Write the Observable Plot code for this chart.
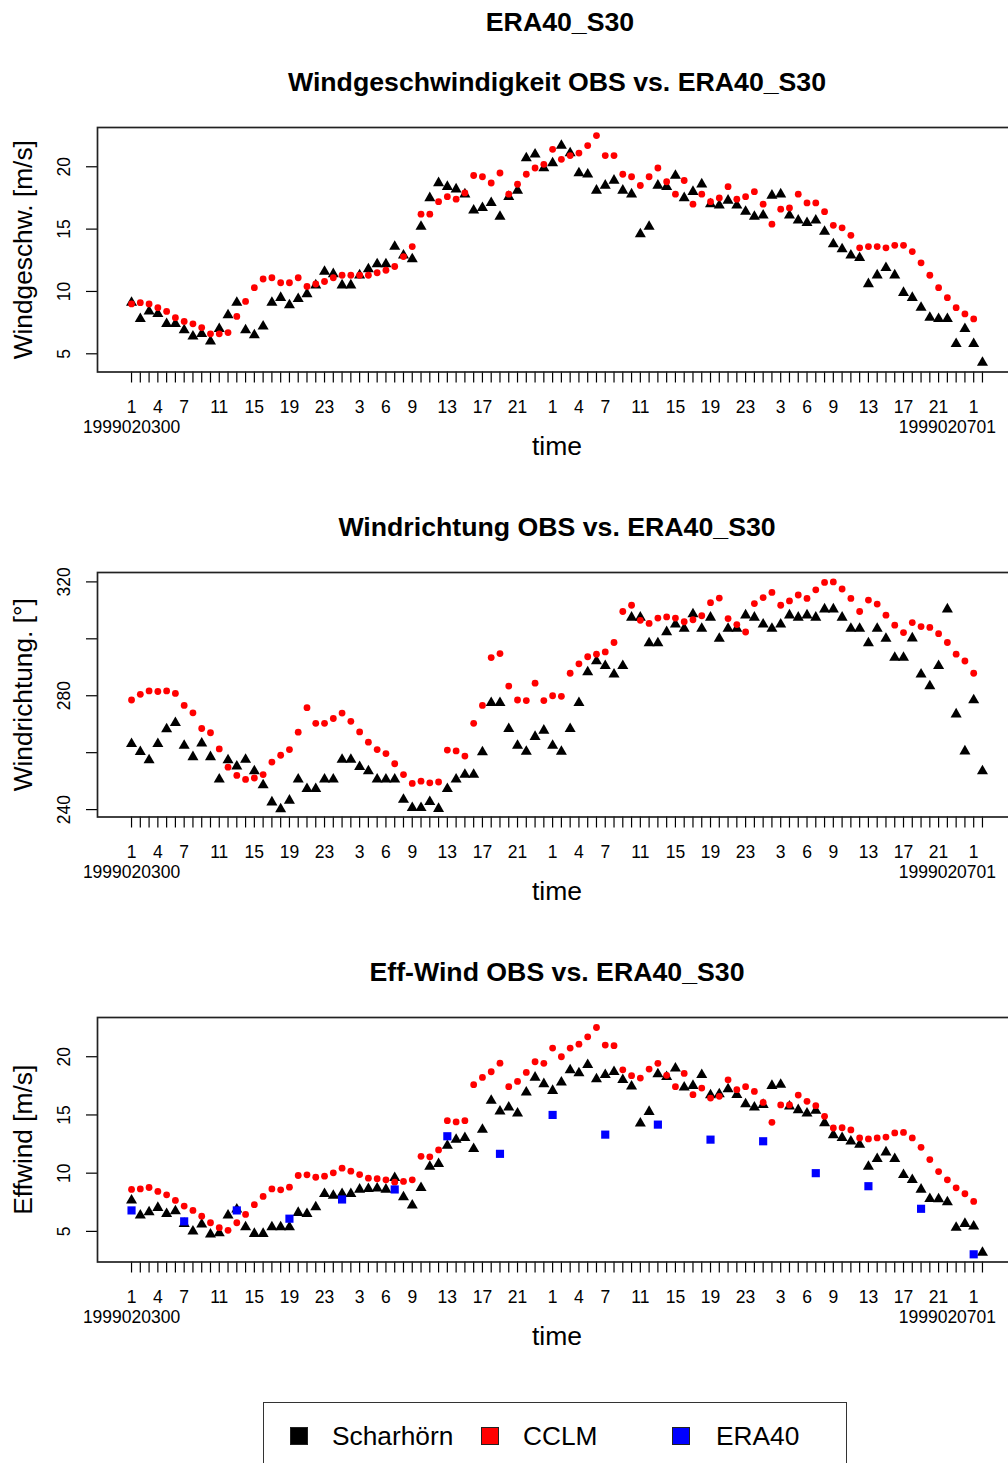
<!DOCTYPE html>
<html><head><meta charset="utf-8">
<script src="https://cdn.jsdelivr.net/npm/d3@7"></script>
<script src="https://cdn.jsdelivr.net/npm/@observablehq/plot@0.6"></script>
<style>
body{margin:0;background:#fff;font-family:"Liberation Sans",Arial,sans-serif;}
#page{position:relative;width:1008px;height:1463px;overflow:hidden;background:#fff;}
.t{position:absolute;white-space:nowrap;transform:translate(-50%,-50%);font-weight:bold;font-size:26.7px;color:#000;line-height:1;}
.panel{position:absolute;left:0;width:1016px;}
.panel svg{max-width:none !important;display:block;}
#legend{position:absolute;left:263px;top:1402px;width:584px;height:90px;border:1.6px solid #333;box-sizing:border-box;}
.sq{position:absolute;width:18px;height:18px;box-sizing:border-box;border:1px solid #222;}
.lt{position:absolute;font-size:26.3px;line-height:1;transform:translateY(-50%);white-space:nowrap;color:#000;}
</style>
</head><body>
<div id="page"></div>
<script>
// ---- data ----
const xTickLabels = ["1","4","7","11","15","19","23","3","6","9","13","17","21","1","4","7","11","15","19","23","3","6","9","13","17","21","1"];
const xTickLabelIndex = [0,3,6,10,14,18,22,26,29,32,36,40,44,48,51,54,58,62,66,70,74,77,80,84,88,92,96];
const dateLabels = ["1999020300","1999020701"];
const dateLabelIndex = [0,93];

const speedObs = [9.1,7.8,8.4,8.2,7.4,7.4,6.9,6.4,6.6,6.0,
  7.0,8.1,9.1,6.9,6.5,7.2,9.1,9.5,8.9,9.4,
  9.8,10.5,11.6,11.4,10.5,10.5,11.3,11.8,12.2,12.2,
  13.6,12.9,12.6,15.2,17.5,18.7,18.4,18.2,17.8,16.5,
  16.7,17.1,16.0,17.6,18.1,20.7,21.0,19.9,20.3,21.7,
  21.1,19.5,19.4,18.1,18.5,18.9,18.1,17.8,14.6,15.2,
  18.5,18.4,19.3,17.5,18.0,18.6,17.0,16.9,17.3,16.9,
  16.4,16.0,16.1,17.7,17.8,16.1,15.7,15.5,15.7,14.8,
  13.8,13.4,12.9,12.7,10.6,11.3,11.9,11.3,9.9,9.5,
  8.7,7.9,7.8,7.8,5.8,7.0,5.8,4.3];
const speedCclm = [9.0,9.1,9.0,8.7,8.4,7.9,7.6,7.4,7.1,6.6,
  6.6,6.7,8.0,9.2,10.3,11.0,11.1,10.7,10.7,11.1,
  10.4,10.6,10.8,11.1,11.3,11.3,11.3,11.3,11.5,11.7,
  12.0,12.8,13.6,16.2,16.2,17.2,17.6,17.4,17.9,19.3,
  19.2,18.7,19.5,17.8,18.6,19.4,19.9,20.2,21.4,20.6,
  20.9,21.1,21.7,22.5,20.9,20.9,19.4,19.2,18.5,19.2,
  19.9,18.8,17.8,18.9,17.0,17.8,17.2,17.5,18.4,17.4,
  17.6,18.0,17.0,15.4,16.6,16.7,17.8,17.1,17.1,16.4,
  15.3,15.1,14.5,13.5,13.6,13.6,13.5,13.7,13.7,13.2,
  12.3,11.3,10.3,9.5,8.7,8.2,7.8];

const dirObs = [263.1,260.3,257.4,263.1,268.3,270.5,262.5,258.5,263.3,258.5,
  250.6,257.4,255.2,257.6,253.5,248.6,242.6,240.2,243.2,250.6,
  247.3,247.3,250.6,250.6,257.6,257.6,255.0,253.5,250.6,250.6,
  250.6,243.5,240.6,240.6,242.7,240.3,247.3,250.6,252.3,252.3,
  260.2,277.5,277.5,268.4,262.5,260.4,265.6,267.8,262.5,260.4,
  268.4,277.5,288.3,292.2,290.5,287.5,290.5,307.5,307.5,298.5,
  298.5,302.4,305.1,303.6,308.7,303.6,307.5,300.1,303.6,303.6,
  308.3,307.5,305.1,303.6,305.1,308.3,307.5,308.3,307.5,310.4,
  310.4,307.5,303.6,303.6,298.5,303.6,300.1,293.4,293.4,300.2,
  287.5,283.4,290.5,310.4,273.5,260.5,278.5,253.5];
const dirCclm = [278.5,280.5,281.7,281.5,281.7,280.8,276.6,274.0,268.5,267.0,
  261.3,254.9,252.0,250.6,251.1,252.3,256.7,259.1,261.1,267.2,
  275.8,270.3,270.3,272.0,273.9,271.0,267.3,263.7,261.1,259.7,
  256.1,252.3,249.2,250.0,249.4,249.7,260.9,260.6,258.8,270.3,
  276.6,293.4,294.8,283.4,278.5,278.3,284.4,278.3,280.0,279.8,
  287.9,291.2,293.7,294.6,295.4,298.7,309.6,311.8,306.5,305.4,
  307.3,307.7,307.3,306.0,306.7,308.1,312.7,314.3,307.1,305.0,
  302.4,312.4,314.5,316.3,311.8,313.3,315.4,314.2,317.2,319.8,
  320.0,317.5,314.2,309.6,313.6,312.2,308.3,304.8,302.2,305.7,
  304.3,304.0,301.8,298.7,294.6,292.2,287.9];

const effObs = [7.66,6.37,6.65,7.03,6.51,6.74,5.66,5.0,5.6,4.74,
  4.86,6.37,6.9,5.37,4.8,4.8,5.37,5.37,5.37,6.6,
  6.51,7.08,8.23,8.08,8.23,8.23,8.6,8.65,8.7,8.6,
  9.6,7.94,7.23,8.74,10.57,10.8,12.37,12.88,13.03,12.09,
  13.74,16.23,15.31,15.65,15.14,16.94,18.22,17.66,17.08,17.8,
  18.85,18.6,19.31,18.08,18.45,18.71,18.02,17.45,14.28,15.28,
  18.51,18.28,19.0,17.37,17.51,18.45,16.71,16.79,17.22,16.74,
  15.94,15.65,15.88,17.51,17.6,15.74,15.43,15.14,15.37,14.31,
  13.28,13.03,12.74,12.45,10.57,11.23,11.8,11.23,9.86,9.43,
  8.6,7.8,7.77,7.51,5.32,5.66,5.43,3.17];
const effCclm = [8.6,8.65,8.77,8.43,8.14,7.66,7.17,6.8,6.31,5.74,
  5.32,5.09,5.74,6.46,7.29,8.0,8.65,8.57,8.8,9.8,
  9.86,9.65,9.74,10.03,10.43,10.17,9.88,9.57,9.52,9.43,
  9.23,9.29,9.43,11.45,11.4,12.0,14.51,14.4,14.51,17.6,
  18.22,18.71,19.45,17.43,17.88,18.65,19.57,19.43,20.74,20.0,
  20.74,21.08,21.71,22.51,21.0,20.95,18.88,18.37,18.17,18.94,
  19.43,18.4,17.43,18.57,16.74,17.31,16.45,16.6,18.02,17.17,
  17.43,17.02,16.08,14.37,15.86,15.86,16.71,16.17,15.8,14.88,
  13.88,13.9,13.71,13.03,12.94,13.03,13.1,13.46,13.5,13.03,
  12.22,11.17,10.14,9.43,8.74,8.23,7.57];
const effEraIndex = [0,6,12,18,24,30,36,42,48,54,60,66,72,78,84,90,96];
const effEra = [6.8,5.86,6.8,6.09,7.74,8.6,13.17,11.66,15.0,13.31,14.17,12.88,12.74,10.0,8.88,6.94,3.03];

const mainTitle = "ERA40_S30";
const panels = [
  {title:"Windgeschwindigkeit OBS vs. ERA40_S30", ylab:"Windgeschw. [m/s]", frameTop:126.5,
   yDomain:[3.54,23.15], yTicks:[5,10,15,20], yLabels:[5,10,15,20], obs:speedObs, cclm:speedCclm},
  {title:"Windrichtung OBS vs. ERA40_S30", ylab:"Windrichtung. [°]", frameTop:571.6,
   yDomain:[237.4,323.3], yTicks:[240,260,280,300,320], yLabels:[240,280,320], obs:dirObs, cclm:dirCclm},
  {title:"Eff-Wind OBS vs. ERA40_S30", ylab:"Effwind [m/s]", frameTop:1016.7,
   yDomain:[2.37,23.37], yTicks:[5,10,15,20], yLabels:[5,10,15,20], obs:effObs, cclm:effCclm,
   eraIdx:effEraIndex, era:effEra}
];
const legendItems = [
  {label:"Scharhörn", color:"#000000"},
  {label:"CCLM", color:"#ff0000"},
  {label:"ERA40", color:"#0000ff"}
];

// ---- layout ----
const page = document.getElementById("page");
const MT = 40, FH = 244.5, MB = 100;
const allTicks = d3.range(98);
const xDomain = [-3.88, 100.88];

function addTitle(text, cx, cy) {
  const d = document.createElement("div");
  d.className = "t"; d.textContent = text;
  d.style.left = cx + "px"; d.style.top = cy + "px";
  page.appendChild(d);
}
addTitle(mainTitle, 560, 22);

panels.forEach((p) => {
  addTitle(p.title, 557, p.frameTop - 44.5);
  const marks = [
    Plot.axisX({ticks: allTicks, tickSize: 11, tickFormat: () => "", strokeWidth: 1.2, label: null}),
    Plot.axisY({ticks: p.yTicks, tickSize: 11, tickFormat: () => "", strokeWidth: 1.2, label: null}),
    Plot.frame({stroke: "#222", strokeWidth: 1.7}),
    Plot.text(xTickLabelIndex, {x: d => d, text: (d, i) => xTickLabels[i], frameAnchor: "bottom", dy: 35.5, fontSize: 17.5, lineAnchor: "middle", textAnchor: "middle"}),
    Plot.text(dateLabelIndex, {x: d => d, text: (d, i) => dateLabels[i], frameAnchor: "bottom", dy: 55.5, fontSize: 17.5, lineAnchor: "middle", textAnchor: "middle"}),
    Plot.text(["time"], {text: d => d, frameAnchor: "bottom", dy: 74.5, fontSize: 26.5, lineAnchor: "middle", textAnchor: "middle"}),
    Plot.text(p.yLabels, {y: d => d, text: d => String(d), frameAnchor: "left", dx: -33, rotate: -90, fontSize: 17.5, lineAnchor: "middle", textAnchor: "middle"}),
    Plot.text([p.ylab], {text: d => d, frameAnchor: "left", dx: -74, rotate: -90, fontSize: 26.3, lineAnchor: "middle", textAnchor: "middle"}),
    Plot.dot(p.obs, {x: (d, i) => i, y: d => d, symbol: "triangle", r: 4.1, fill: "#000", strokeWidth: 0}),
    Plot.dot(p.cclm, {x: (d, i) => i, y: d => d, r: 3.4, fill: "#ff0000", strokeWidth: 0})
  ];
  if (p.era) {
    marks.push(Plot.dot(p.era, {x: (d, i) => p.eraIdx[i], y: d => d, symbol: "square", r: 4.6, fill: "#0000ff", strokeWidth: 0}));
  }
  const chart = Plot.plot({
    width: 1016, height: MT + FH + MB,
    marginLeft: 97, marginRight: 0, marginTop: MT, marginBottom: MB,
    x: {domain: xDomain},
    y: {domain: p.yDomain},
    style: {fontFamily: "Liberation Sans, Arial, sans-serif", fontSize: "17.5px", background: "transparent", overflow: "visible", maxWidth: "none", color: "#000"},
    marks
  });
  const wrap = document.createElement("div");
  wrap.className = "panel";
  wrap.style.top = (p.frameTop - MT) + "px";
  wrap.appendChild(chart);
  page.appendChild(wrap);
});

// legend
const lg = document.createElement("div");
lg.id = "legend";
page.appendChild(lg);
const sqX = [289, 480, 671], txX = [331, 522, 715];
legendItems.forEach((it, i) => {
  const s = document.createElement("div");
  s.className = "sq"; s.style.background = it.color;
  s.style.left = (sqX[i] - 263) + "px"; s.style.top = (1426 - 1402) + "px";
  lg.appendChild(s);
  const t = document.createElement("div");
  t.className = "lt"; t.textContent = it.label;
  t.style.left = (txX[i] - 263) + "px"; t.style.top = (1435 - 1402) + "px";
  lg.appendChild(t);
});
</script>
</body></html>
